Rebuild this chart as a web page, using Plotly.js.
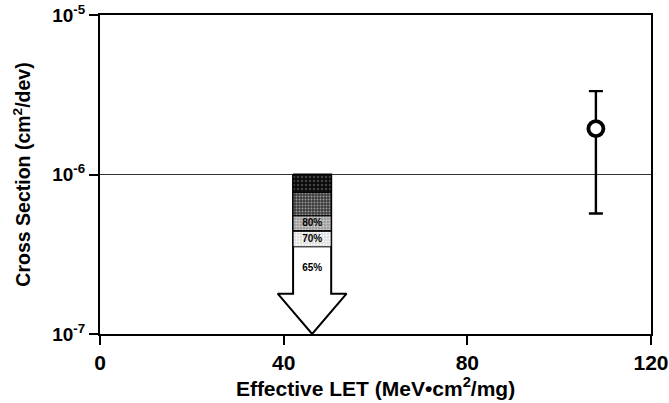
<!DOCTYPE html>
<html>
<head>
<meta charset="utf-8">
<script src="https://cdn.plot.ly/plotly-3.0.1.min.js"></script>
<style>html,body{margin:0;padding:0;background:#fff}#chart{width:669px;height:403px}</style>
</head>
<body>
<div id="chart"></div>
<script>
// Measured data point
const pointLET = [108];
const pointXS = [1.94e-6];
const pointXSHigh = [3.33e-6];
const pointXSLow = [5.69e-7];

// Upper-limit arrow (probability bands)
const arrowLET = 46.2;
const arrowTop = 1e-6;
const arrowHeadStart = 1.79e-7;
const arrowTip = 1e-7;
const bandTop = [1e-6, 7.7e-7, 5.5e-7, 4.4e-7];
const bandBottom = [7.7e-7, 5.5e-7, 4.45e-7, 3.52e-7];
const bandLabels = ['', '', '80%', '70%'];
const lowestLabel = '65%';
const lowestLabelXS = 2.57e-7;

// Axis ticks
const yTickVals = [1e-7, 1e-6, 1e-5];
const yTickText = ['10<sup>-7</sup>', '10<sup>-6</sup>', '10<sup>-5</sup>'];
const xTickVals = [0, 40, 80, 120];

const shaftHalf = 4.15, headHalf = 7.5;
const bandStyles = [
  {bg: '#0a0a0a', fg: '#444444', shape: '.', size: 4, solidity: 0.3},
  {bg: '#3a3a3a', fg: '#9a9a9a', shape: '.', size: 3, solidity: 0.35},
  {bg: '#9c9c9c', fg: '#d0d0d0', shape: '.', size: 3, solidity: 0.4},
  {bg: '#dedede', fg: '#ffffff', shape: '.', size: 3, solidity: 0.4}
];

const traces = [];
const L = arrowLET - shaftHalf, R = arrowLET + shaftHalf;
traces.push({
  type: 'scatter', mode: 'lines',
  x: [L, R, R, arrowLET + headHalf, arrowLET, arrowLET - headHalf, L, L],
  y: [arrowTop, arrowTop, arrowHeadStart, arrowHeadStart, arrowTip, arrowHeadStart, arrowHeadStart, arrowTop],
  fill: 'toself', fillcolor: '#ffffff',
  line: {color: '#000', width: 2}, hoverinfo: 'skip', showlegend: false
});
for (let i = 0; i < bandTop.length; i++) {
  const s = bandStyles[i];
  traces.push({
    type: 'scatter', mode: 'lines',
    x: [L, R, R, L, L],
    y: [bandTop[i], bandTop[i], bandBottom[i], bandBottom[i], bandTop[i]],
    fill: 'toself', fillcolor: s.bg,
    fillpattern: {shape: s.shape, bgcolor: s.bg, fgcolor: s.fg, size: s.size, solidity: s.solidity},
    line: {color: '#000', width: 1}, hoverinfo: 'skip', showlegend: false
  });
}
const lblX = [], lblY = [], lblT = [];
for (let i = 0; i < bandTop.length; i++) {
  if (bandLabels[i]) {
    lblX.push(arrowLET);
    lblY.push(Math.sqrt(bandTop[i] * bandBottom[i]));
    lblT.push('<b>' + bandLabels[i] + '</b>');
  }
}
lblX.push(arrowLET); lblY.push(lowestLabelXS); lblT.push('<b>' + lowestLabel + '</b>');
traces.push({
  type: 'scatter', mode: 'text', x: lblX, y: lblY, text: lblT,
  textfont: {family: 'Liberation Sans, Arial, sans-serif', size: 10, color: '#000'},
  hoverinfo: 'skip', showlegend: false
});
traces.push({
  type: 'scatter', mode: 'markers',
  x: pointLET, y: pointXS,
  error_y: {
    type: 'data', symmetric: false,
    array: pointXS.map((v, i) => pointXSHigh[i] - v),
    arrayminus: pointXS.map((v, i) => v - pointXSLow[i]),
    color: '#000', thickness: 2.4, width: 7
  },
  marker: {symbol: 'circle', size: 15, color: '#fff', line: {color: '#000', width: 3.8}},
  showlegend: false
});

const fam = 'Liberation Sans, Arial, Helvetica, sans-serif';
const layout = {
  width: 669, height: 403,
  margin: {l: 100, r: 18, t: 15, b: 69},
  paper_bgcolor: '#fff', plot_bgcolor: '#fff',
  showlegend: false,
  font: {family: fam, color: '#000'},
  xaxis: {
    range: [0, 120], tickvals: xTickVals, ticktext: xTickVals.map(v => '<b>' + v + '</b>'),
    showline: true, linecolor: '#000', linewidth: 2, mirror: true,
    ticks: 'outside', ticklen: 9, tickwidth: 2, tickcolor: '#000',
    showgrid: false, zeroline: false,
    tickfont: {size: 21, family: fam, color: '#000'},
    title: {text: '<b>Effective LET (MeV•cm<sup>2</sup>/mg)</b>', font: {size: 21, family: fam, color: '#000'}, standoff: 6}
  },
  yaxis: {
    type: 'log', range: [-7, -5], tickvals: yTickVals, ticktext: yTickText.map(t => '<b>' + t + '</b>'),
    showline: true, linecolor: '#000', linewidth: 2, mirror: true,
    ticks: 'outside', ticklen: 9, tickwidth: 2, tickcolor: '#000',
    showgrid: true, gridcolor: '#333', gridwidth: 1, zeroline: false,
    tickfont: {size: 19, family: fam, color: '#000'},
    title: {text: '<b>Cross Section (cm<sup>2</sup>/dev)</b>', font: {size: 19.5, family: fam, color: '#000'}, standoff: 16}
  },
  annotations: [{
    xref: 'paper', yref: 'paper', x: 0.902, y: 1.047, xanchor: 'center', yanchor: 'bottom',
    text: 'g', showarrow: false, font: {family: 'Liberation Serif, serif', size: 20, color: '#000'}
  }]
};

Plotly.newPlot('chart', traces, layout, {displayModeBar: false, staticPlot: true});
</script>
</body>
</html>
